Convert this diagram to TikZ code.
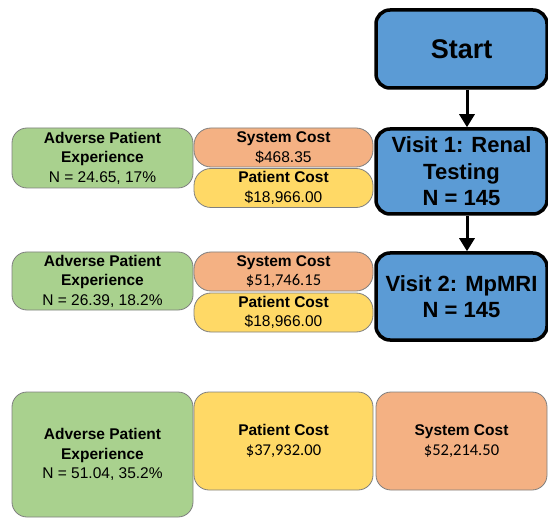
\documentclass[tikz,border=0pt]{standalone}
\usepackage{fontspec}
\setmainfont{Liberation Sans}
\newfontfamily\calibrilike{Carlito}
\usetikzlibrary{arrows.meta}
\definecolor{flowblue}{HTML}{5B9BD5}
\definecolor{advgreen}{HTML}{A9D18E}
\definecolor{syscost}{HTML}{F4B183}
\definecolor{patcost}{HTML}{FFD966}
\definecolor{thinedge}{HTML}{7F7F7F}
\tikzset{
  visitbox/.style={draw=black, line width=3.5pt, fill=flowblue, rounded corners=14pt,
    align=center, inner sep=0pt, font=\fontsize{22}{26.5}\selectfont\bfseries},
  infobox/.style={draw=thinedge, line width=0.8pt, align=center, inner sep=0pt,
    font=\fontsize{15.5}{19.5}\selectfont},
  pill/.style={infobox, rounded corners=17pt},
  card/.style={infobox, rounded corners=15pt},
  flowarrow/.style={line width=3pt, -{Triangle[length=13pt,width=15pt]}},
}
\begin{document}
\begin{tikzpicture}[x=1pt,y=-1pt]
\useasboundingbox (0,0) rectangle (548,518);

% main flow
\node[visitbox, minimum width=171pt, minimum height=78pt, font=\fontsize{27}{32}\selectfont\bfseries]
  (start) at (461.5,49) {Start};
\node[visitbox, minimum width=171pt, minimum height=85pt]
  (visit1) at (461.5,171.5) {Visit 1: Renal\\Testing\\N = 145};
\node[visitbox, minimum width=171pt, minimum height=87pt]
  (visit2) at (461.5,296.5) {Visit 2: MpMRI\\N = 145};

\draw[flowarrow] ([xshift=5.5pt]start.south) -- ([xshift=5.5pt]visit1.north);
\draw[flowarrow] ([xshift=5.5pt]visit1.south) -- ([xshift=5.5pt]visit2.north);

% visit 1 outcomes
\node[card, fill=advgreen, minimum width=181pt, minimum height=60pt]
  (adv1) at (102.5,158) {\textbf{Adverse Patient}\\\textbf{Experience}\\N = 24.65, 17\%};
\node[pill, fill=syscost, minimum width=179pt, minimum height=39pt]
  (sys1) at (283.5,147.5) {\textbf{System Cost}\\\$468.35};
\node[pill, fill=patcost, minimum width=179pt, minimum height=39pt]
  (pat1) at (283.5,188) {\textbf{Patient Cost}\\\$18,966.00};

% visit 2 outcomes
\node[card, fill=advgreen, minimum width=181pt, minimum height=58pt]
  (adv2) at (102.5,281) {\textbf{Adverse Patient}\\\textbf{Experience}\\N = 26.39, 18.2\%};
\node[pill, fill=syscost, minimum width=179pt, minimum height=39pt]
  (sys2) at (283.5,271.5) {\textbf{System Cost}\\{\calibrilike\fontsize{16.5}{19.5}\selectfont\$51,746.15}};
\node[pill, fill=patcost, minimum width=179pt, minimum height=39pt]
  (pat2) at (283.5,312.5) {\textbf{Patient Cost}\\\$18,966.00};

% totals
\node[card, fill=advgreen, minimum width=181pt, minimum height=125pt]
  (advtot) at (102.5,454.5) {\textbf{Adverse Patient}\\\textbf{Experience}\\N = 51.04, 35.2\%};
\node[card, fill=patcost, minimum width=179pt, minimum height=98pt]
  (pattot) at (283.5,441) {\textbf{Patient Cost}\\{\calibrilike\fontsize{16.5}{19.5}\selectfont\$37,932.00}};
\node[card, fill=syscost, minimum width=171pt, minimum height=98pt]
  (systot) at (461.5,441) {\textbf{System Cost}\\{\calibrilike\fontsize{16.5}{19.5}\selectfont\$52,214.50}};
\end{tikzpicture}
\end{document}
